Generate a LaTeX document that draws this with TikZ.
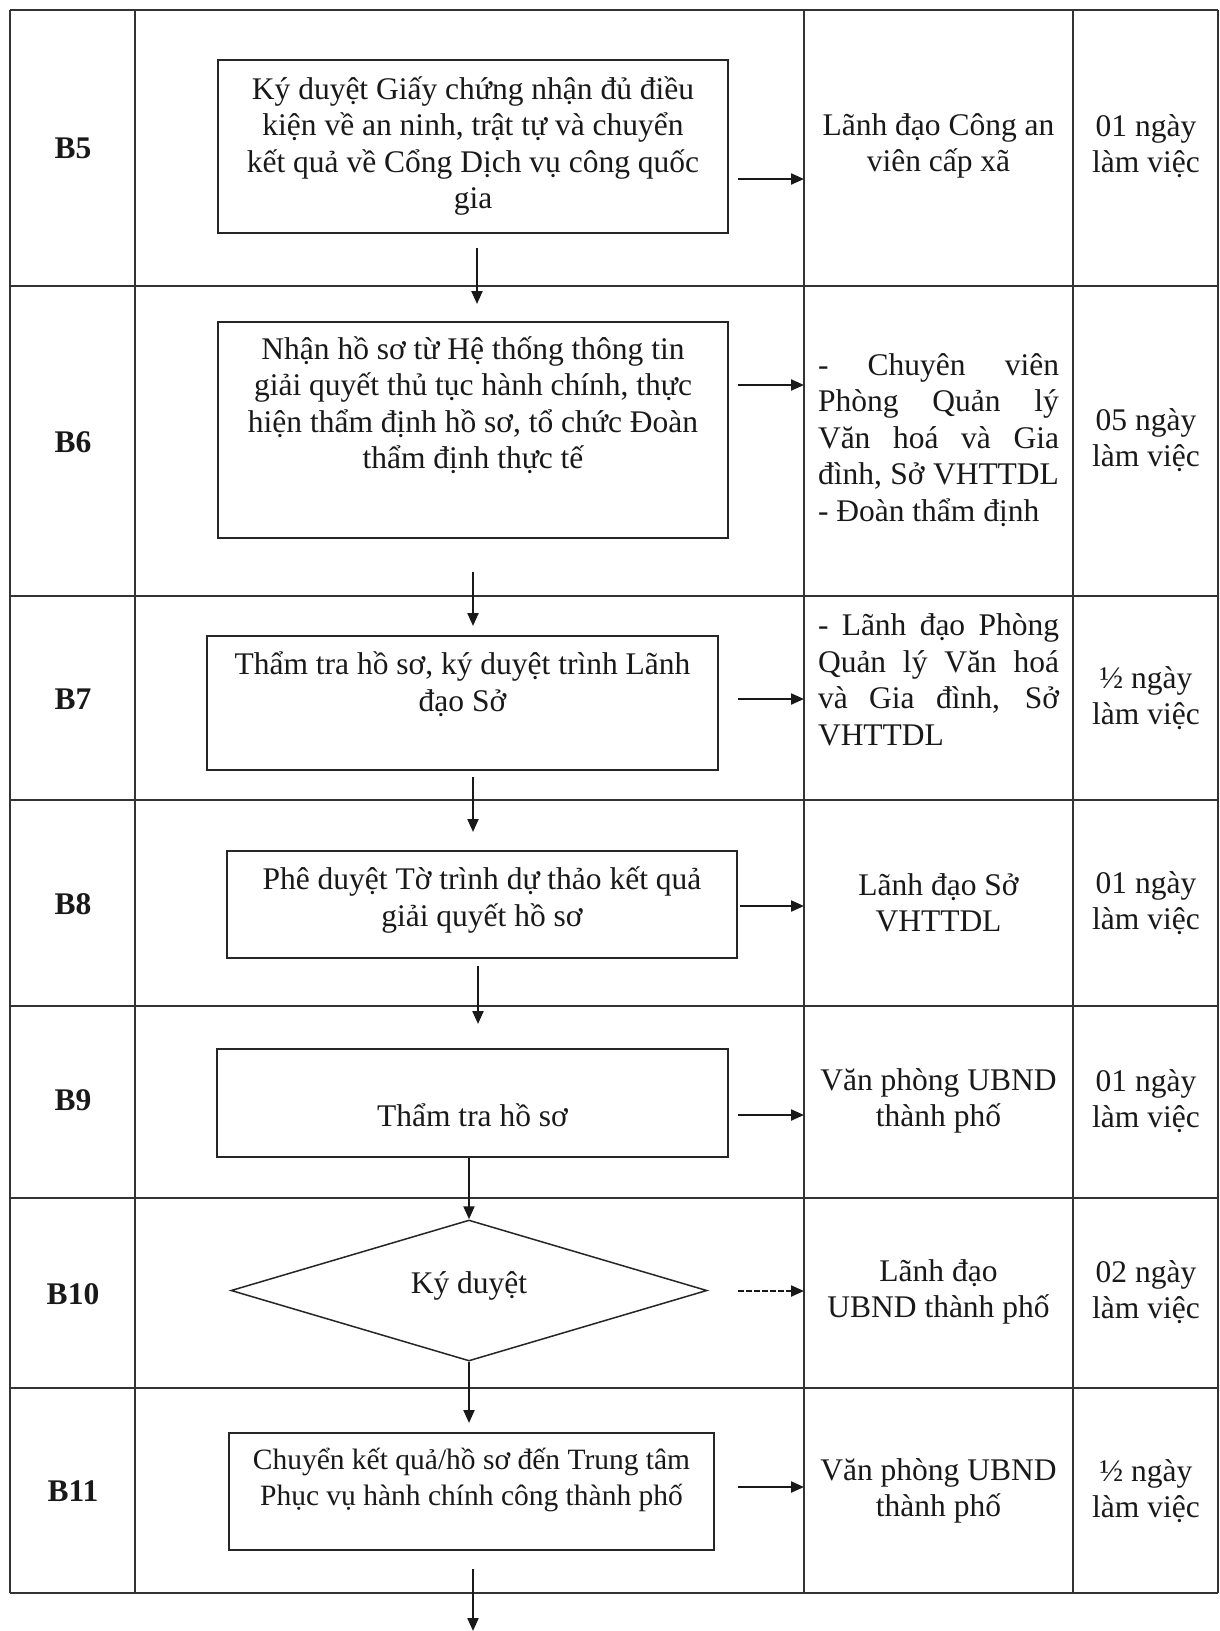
\documentclass[tikz,border=0pt]{standalone}
\usepackage{fontspec}
\setmainfont{Liberation Serif}
\usetikzlibrary{arrows.meta,shapes.geometric}
\newcommand{\bodyfont}{\fontsize{31.5}{36.5}\selectfont}
\newcommand{\narrowfont}{\fontsize{29.5}{36}\selectfont}
% one line of the responsibility column, spread to the full width
\newcommand{\jline}[1]{\makebox[241pt][s]{#1}}
\newcommand{\lline}[1]{\makebox[241pt][l]{#1}}
\begin{document}
\begin{tikzpicture}[x=1pt,y=-1pt,
  rule/.style={line width=1.7pt,draw=black!80},
  stepbox/.style={draw=black!85,line width=1.7pt,rectangle,inner sep=0pt},
  decision/.style={draw=black!85,line width=1.5pt,diamond,inner sep=0pt},
  txt/.style={font=\bodyfont,align=center,inner sep=0pt,text=black!90},
  jtxt/.style={font=\bodyfont,align=left,inner sep=0pt,text=black!90},
  lbl/.style={font=\bodyfont\bfseries,inner sep=0pt,text=black!90},
  flow/.style={line width=2.2pt,draw=black!90,-{Triangle[length=13pt,width=11pt]}},
  dflow/.style={flow,dash pattern=on 6pt off 2pt},
]
\fill[white] (0,0) rectangle (1220,1631);
\useasboundingbox (0,0) rectangle (1220,1631);

% table grid
\foreach \yy in {10,286,596,800,1006,1198,1388,1593}
  \draw[rule] (10,\yy) -- (1218,\yy);
\foreach \xx in {10,135,804,1073,1218}
  \draw[rule] (\xx,10) -- (\xx,1593);

% step labels
\node[lbl] (l5) at (73,148) {B5};
\node[lbl] (l6) at (73,442) {B6};
\node[lbl] (l7) at (73,699) {B7};
\node[lbl] (l8) at (73,904) {B8};
\node[lbl] (l9) at (73,1100) {B9};
\node[lbl] (l10) at (73,1294) {B10};
\node[lbl] (l11) at (73,1491) {B11};

% process boxes
\node[stepbox,minimum width=510pt,minimum height=173pt] (s5) at (473,146.5) {};
\node[txt] (s5t) at (473,146) {Ký duyệt Giấy chứng nhận đủ điều\\kiện về an ninh, trật tự và chuyển\\kết quả về Cổng Dịch vụ công quốc\\gia};

\node[stepbox,minimum width=510pt,minimum height=216pt] (s6) at (473,430) {};
\node[txt] (s6t) at (473,405) {Nhận hồ sơ từ Hệ thống thông tin\\giải quyết thủ tục hành chính, thực\\hiện thẩm định hồ sơ, tổ chức Đoàn\\thẩm định thực tế};

\node[stepbox,minimum width=511pt,minimum height=134pt] (s7) at (462.5,703) {};
\node[txt] (s7t) at (462.5,684) {Thẩm tra hồ sơ, ký duyệt trình Lãnh\\đạo Sở};

\node[stepbox,minimum width=510pt,minimum height=107pt] (s8) at (482,904.5) {};
\node[txt] (s8t) at (482,900) {Phê duyệt Tờ trình dự thảo kết quả\\giải quyết hồ sơ};

\node[stepbox,minimum width=511pt,minimum height=108pt] (s9) at (472.5,1103) {};
\node[txt] (s9t) at (472.5,1115) {Thẩm tra hồ sơ};

\node[decision,minimum width=476pt,minimum height=141pt] (d10) at (469,1290.5) {};
\node[txt] (d10t) at (469,1286) {Ký duyệt};

\node[stepbox,minimum width=485pt,minimum height=117pt] (s11) at (471.5,1491.5) {};
\node[txt,font=\narrowfont] (s11t) at (471.5,1480) {Chuyển kết quả/hồ sơ đến Trung tâm\\Phục vụ hành chính công thành phố};

% responsible units
\node[txt] (r5) at (938.5,146) {Lãnh đạo Công an\\viên cấp xã};
\node[jtxt] (r6) at (938.5,440) {\jline{- Chuyên viên}\\\jline{Phòng Quản lý}\\\jline{Văn hoá và Gia}\\\jline{đình, Sở VHTTDL}\\\lline{- Đoàn thẩm định}};
\node[jtxt] (r7) at (938.5,680) {\jline{- Lãnh đạo Phòng}\\\jline{Quản lý Văn hoá}\\\jline{và Gia đình, Sở}\\\lline{VHTTDL}};
\node[txt] (r8) at (938.5,903) {Lãnh đạo Sở\\VHTTDL};
\node[txt] (r9) at (938.5,1101) {Văn phòng UBND\\thành phố};
\node[txt] (r10) at (938.5,1292) {Lãnh đạo\\UBND thành phố};
\node[txt] (r11) at (938.5,1491) {Văn phòng UBND\\thành phố};

% time limits
\node[txt] (t5) at (1146,146) {01 ngày\\làm việc};
\node[txt] (t6) at (1146,440) {05 ngày\\làm việc};
\node[txt] (t7) at (1146,698) {½ ngày\\làm việc};
\node[txt] (t8) at (1146,903) {01 ngày\\làm việc};
\node[txt] (t9) at (1146,1101) {01 ngày\\làm việc};
\node[txt] (t10) at (1146,1292) {02 ngày\\làm việc};
\node[txt] (t11) at (1146,1491) {½ ngày\\làm việc};

% arrow ends
\coordinate (h5a) at (738,179);  \coordinate (h5b) at (804,179);
\coordinate (h6a) at (738,385);  \coordinate (h6b) at (804,385);
\coordinate (h7a) at (738,699);  \coordinate (h7b) at (804,699);
\coordinate (h8a) at (740,906);  \coordinate (h8b) at (804,906);
\coordinate (h9a) at (738,1115); \coordinate (h9b) at (804,1115);
\coordinate (h10a) at (738,1291); \coordinate (h10b) at (804,1291);
\coordinate (h11a) at (738,1487); \coordinate (h11b) at (804,1487);

\coordinate (v5a) at (477,248);  \coordinate (v5b) at (477,304);
\coordinate (v6a) at (473,572);  \coordinate (v6b) at (473,626);
\coordinate (v7a) at (473,777);  \coordinate (v7b) at (473,832);
\coordinate (v8a) at (478,966);  \coordinate (v8b) at (478,1024);
\coordinate (v10b) at (469,1423);
\coordinate (v11a) at (473,1569); \coordinate (v11b) at (473,1631);

% connectors to the responsibility column
\draw[flow] (h5a) -- (h5b);
\draw[flow] (h6a) -- (h6b);
\draw[flow] (h7a) -- (h7b);
\draw[flow] (h8a) -- (h8b);
\draw[flow] (h9a) -- (h9b);
\draw[dflow] (h10a) -- (h10b);
\draw[flow] (h11a) -- (h11b);

% connectors between steps
\draw[flow] (v5a) -- (v5b);
\draw[flow] (v6a) -- (v6b);
\draw[flow] (v7a) -- (v7b);
\draw[flow] (v8a) -- (v8b);
\draw[flow] (s9.south -| d10.north) -- (d10.north);
\draw[flow] (d10.south) -- (v10b);
\draw[flow] (v11a) -- (v11b);
\end{tikzpicture}
\end{document}
